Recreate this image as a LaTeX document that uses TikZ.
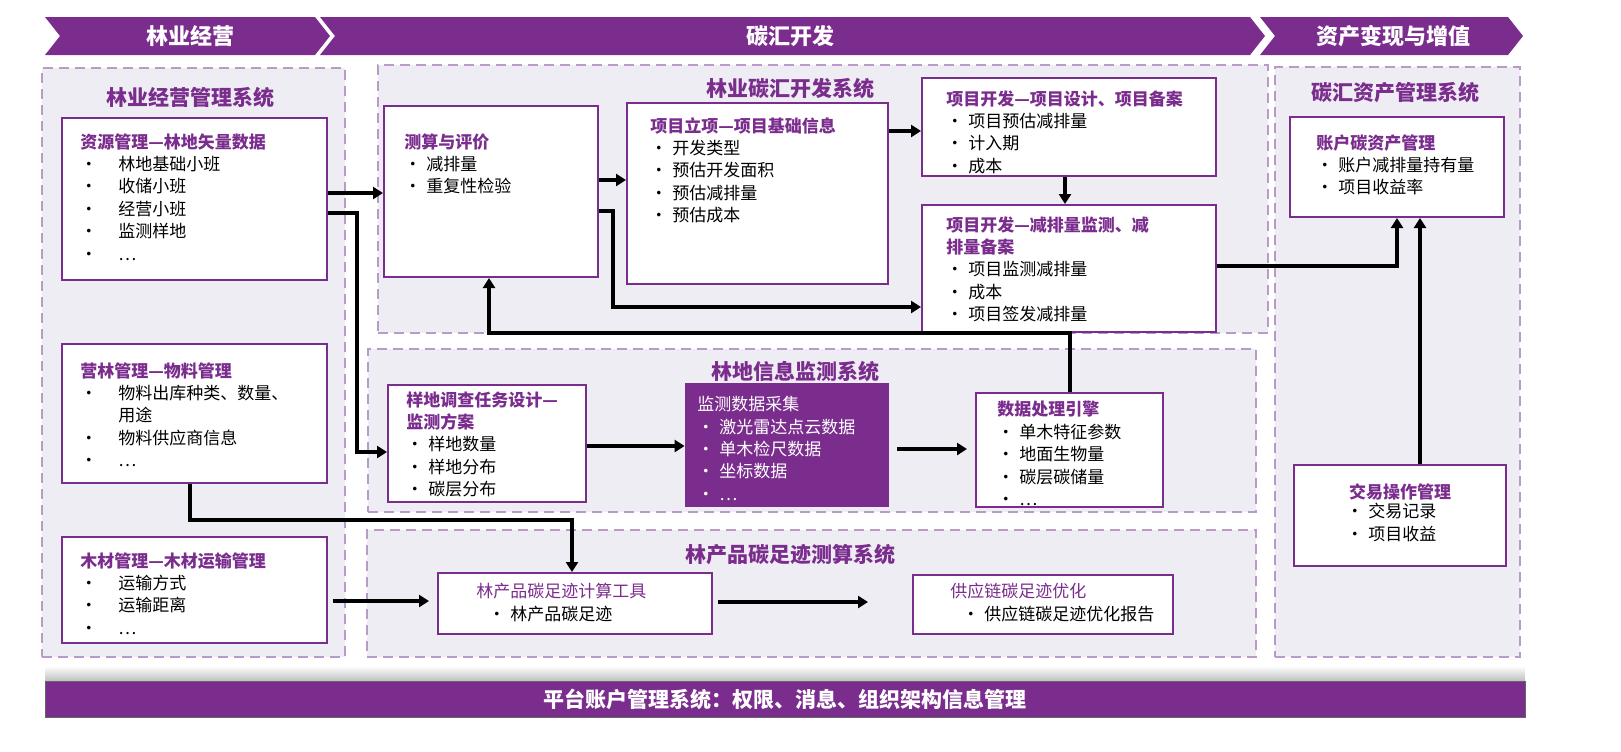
\documentclass[tikz,border=0pt]{standalone}
\usepackage{fontspec}
\setmainfont{Noto Sans CJK SC}
\usetikzlibrary{fit,arrows.meta}
\definecolor{pp}{RGB}{123,45,142}
\definecolor{pbg}{RGB}{238,237,243}
\definecolor{pdash}{RGB}{185,155,200}
\newcommand{\bu}[1]{\makebox[#1][l]{•}}
\begin{document}
\begin{tikzpicture}[x=0.5pt,y=-0.5pt,
  panel/.style={draw=pdash,fill=pbg,dashed,line width=0.9pt,dash pattern=on 5pt off 3pt,inner sep=0},
  box/.style={draw=pp,fill=white,line width=1pt,inner sep=0},
  txt/.style={anchor=north west,inner sep=0,align=left,font=\fontsize{8.5}{11.2}\selectfont},
  hd/.style={font=\fontsize{10.5}{12}\selectfont\bfseries,text=pp,inner sep=0},
  ban/.style={font=\fontsize{11}{12}\selectfont\bfseries,text=white,inner sep=0},
  arr/.style={line width=1.6pt,-{Triangle[length=5pt,width=6pt]}}]
\useasboundingbox (0,0) rectangle (1621,751);
% banner
\fill[pp] (45,17)--(315,17)--(330,36)--(315,55)--(45,55)--(60,36)--cycle;
\fill[pp] (320,17)--(1250,17)--(1265,36)--(1250,55)--(320,55)--(335,36)--cycle;
\fill[pp] (1260,17)--(1508,17)--(1523,36)--(1508,55)--(1260,55)--(1275,36)--cycle;
\node[ban] (b1) at (190,36) {林业经营};
\node[ban] (b2) at (790,36) {碳汇开发};
\node[ban] (b3) at (1393,36) {资产变现与增值};
% panels
\node[panel,fit={(42,68)(345,657)}] (p1) {};
\node[panel,fit={(378,65)(1268,333)}] (p2) {};
\node[panel,fit={(368,349)(1256,512)}] (p3) {};
\node[panel,fit={(367,530)(1256,657)}] (p4) {};
\node[panel,fit={(1275,67)(1520,657)}] (p5) {};
\node[hd] (t1) at (190,97) {林业经营管理系统};
\node[hd] (t2) at (790,88) {林业碳汇开发系统};
\node[hd] (t3) at (795,371) {林地信息监测系统};
\node[hd] (t4) at (790,555) {林产品碳足迹测算系统};
\node[hd] (t5) at (1395,93) {碳汇资产管理系统};
% boxes
\node[box,fit={(62,118)(327,280)}] (zy) {};
\node[box,fit={(62,344)(327,483)}] (yl) {};
\node[box,fit={(62,537)(327,643)}] (mc) {};
\node[box,fit={(384,106)(598,277)}] (cs) {};
\node[box,fit={(627,103)(888,284)}] (lx) {};
\node[box,fit={(922,78)(1216,176)}] (sj) {};
\node[box,fit={(922,205)(1216,332)}] (jc) {};
\node[box,fit={(388,385)(586,502)}] (yd) {};
\node[fill=pp,inner sep=0,fit={(685,383)(889,507)}] (cj) {};
\node[box,fit={(976,393)(1163,507)}] (sc) {};
\node[box,fit={(438,573)(712,634)}] (lc) {};
\node[box,fit={(913,575)(1173,634)}] (gy) {};
\node[box,fit={(1290,117)(1504,217)}] (zh) {};
\node[box,fit={(1294,465)(1506,566)}] (jy) {};
% texts
\node[txt] (x1) at (80,133) {\textcolor{pp}{\bfseries 资源管理—林地矢量数据}\\\bu{19pt}林地基础小班\\\bu{19pt}收储小班\\\bu{19pt}经营小班\\\bu{19pt}监测样地\\\bu{19pt}…};
\node[txt] (x2) at (80,362) {\textcolor{pp}{\bfseries 营林管理—物料管理}\\\bu{19pt}物料出库种类、数量、\\\hspace*{19pt}用途\\\bu{19pt}物料供应商信息\\\bu{19pt}…};
\node[txt] (x3) at (80,552) {\textcolor{pp}{\bfseries 木材管理—木材运输管理}\\\bu{19pt}运输方式\\\bu{19pt}运输距离\\\bu{19pt}…};
\node[txt] (x4) at (404,133) {\textcolor{pp}{\bfseries 测算与评价}\\\bu{11pt}减排量\\\bu{11pt}重复性检验};
\node[txt] (x5) at (650,117) {\textcolor{pp}{\bfseries 项目立项—项目基础信息}\\\bu{11pt}开发类型\\\bu{11pt}预估开发面积\\\bu{11pt}预估减排量\\\bu{11pt}预估成本};
\node[txt] (x6) at (946,90) {\textcolor{pp}{\bfseries 项目开发—项目设计、项目备案}\\\bu{11pt}项目预估减排量\\\bu{11pt}计入期\\\bu{11pt}成本};
\node[txt] (x7) at (946,216) {\textcolor{pp}{\bfseries 项目开发—减排量监测、减}\\\textcolor{pp}{\bfseries 排量备案}\\\bu{11pt}项目监测减排量\\\bu{11pt}成本\\\bu{11pt}项目签发减排量};
\node[txt] (x8) at (406,391) {\textcolor{pp}{\bfseries 样地调查任务设计—}\\\textcolor{pp}{\bfseries 监测方案}\\\bu{11pt}样地数量\\\bu{11pt}样地分布\\\bu{11pt}碳层分布};
\node[txt,text=white] (x9) at (697,396) {监测数据采集\\\bu{11pt}激光雷达点云数据\\\bu{11pt}单木检尺数据\\\bu{11pt}坐标数据\\\bu{11pt}…};
\node[txt] (x10) at (997,401) {\textcolor{pp}{\bfseries 数据处理引擎}\\\bu{11pt}单木特征参数\\\bu{11pt}地面生物量\\\bu{11pt}碳层碳储量\\\bu{11pt}…};
\node[txt] (x11) at (476,583) {\textcolor{pp}{林产品碳足迹计算工具}\\\hspace*{6pt}\bu{11pt}林产品碳足迹};
\node[txt] (x12) at (950,583) {\textcolor{pp}{供应链碳足迹优化}\\\hspace*{6pt}\bu{11pt}供应链碳足迹优化报告};
\node[txt] (x13) at (1316,134) {\textcolor{pp}{\bfseries 账户碳资产管理}\\\bu{11pt}账户减排量持有量\\\bu{11pt}项目收益率};
\node[hd,font=\fontsize{8.5}{11}\selectfont\bfseries] (x14h) at (1400,492) {交易操作管理};
\node[txt] (x14) at (1346,503) {\bu{11pt}交易记录\\\bu{11pt}项目收益};
% bottom bar
\shade[top color=white,bottom color=black!25] (45,666) rectangle (1525,681);
\node[fill=pp,draw=black!60,inner sep=0,fit={(45,681)(1525,717)}] (bar) {};
\node[ban,font=\fontsize{10.5}{12}\selectfont\bfseries] (bart) at (785,699) {平台账户管理系统：权限、消息、组织架构信息管理};
% arrows
\draw[arr] (zy.east |- 0,193) -- (cs.west |- 0,193);
\draw[arr] (zy.east |- 0,213) -| (357,452) -- (yd.west |- 0,452);
\draw[arr] (cs.east |- 0,180) -- (lx.west |- 0,180);
\draw[arr] (cs.east |- 0,211) -| (613,307) -- (jc.west |- 0,307);
\draw[arr] (lx.east |- 0,131) -- (sj.west |- 0,131);
\draw[arr] (sj.south -| 1065,0) -- (jc.north -| 1065,0);
\draw[arr] (sc.north -| 1070,0) |- (489,333) -- (cs.south -| 489,0);
\draw[arr] (yd.east |- 0,446) -- (cj.west |- 0,446);
\draw[arr] (cj.east |- 0,449) ++(8,0) -- ([xshift=-4]sc.west |- 0,449);
\draw[arr] (yl.south -| 190,0) |- (572,520) -- (lc.north -| 572,0);
\draw[arr] (mc.east |- 0,601) ++(5,0) -- ([xshift=-4]lc.west |- 0,601);
\draw[arr] (lc.east |- 0,602) ++(5,0) -- ([xshift=-22]gy.west |- 0,602);
\draw[arr] (jc.east |- 0,266) -| (zh.south -| 1397,0);
\draw[arr] (jy.north -| 1420,0) -- (zh.south -| 1420,0);
\end{tikzpicture}
\end{document}
